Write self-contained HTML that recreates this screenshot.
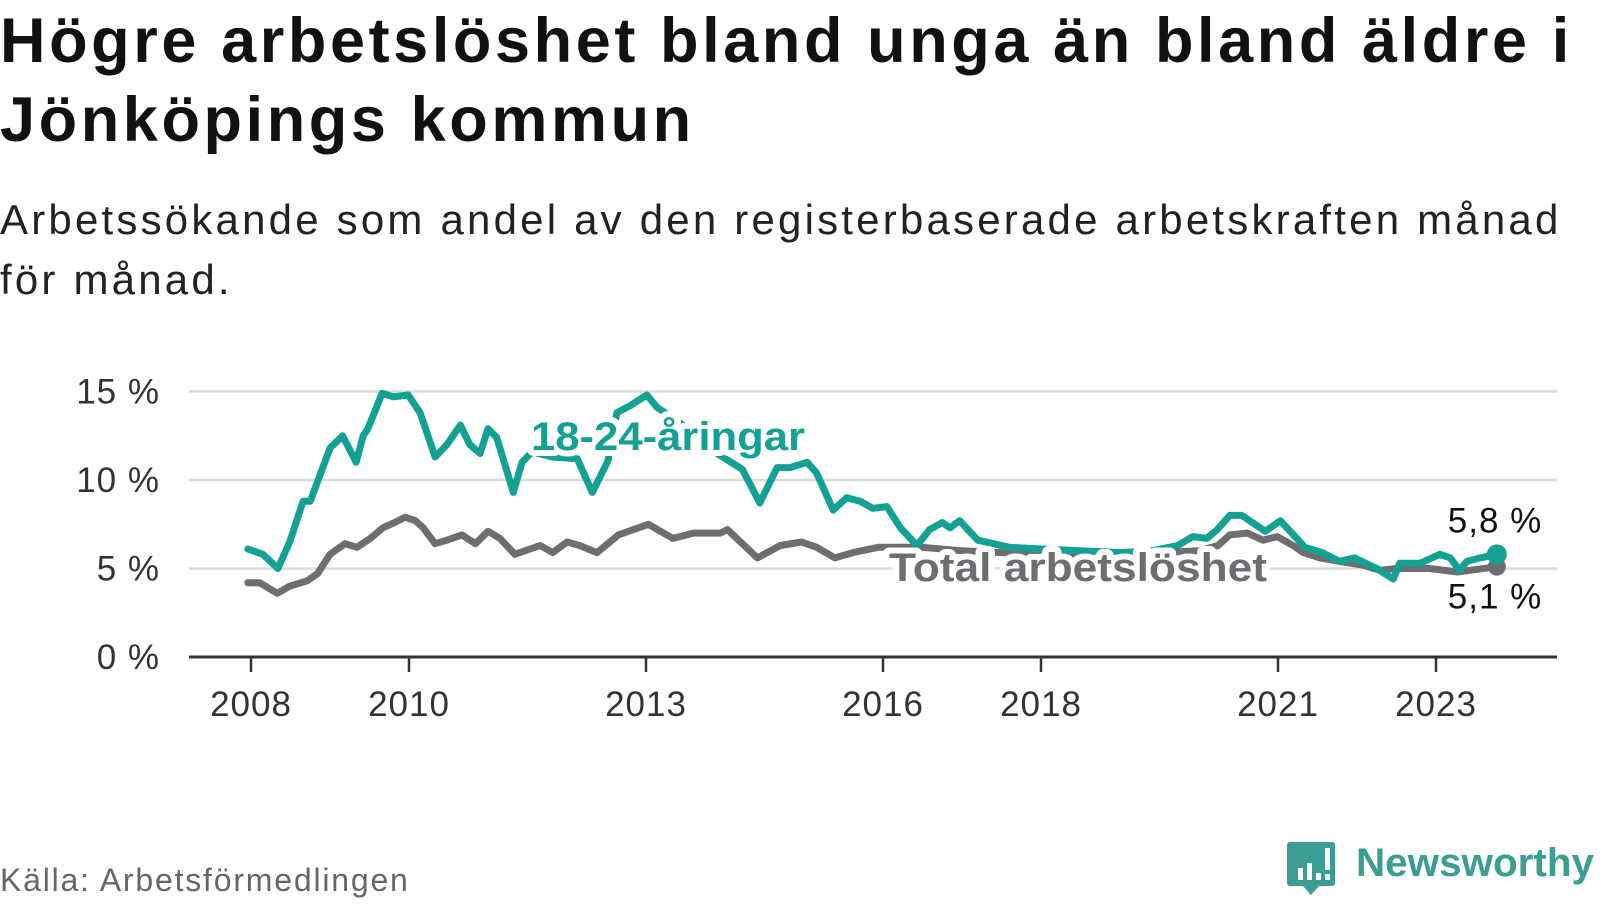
<!DOCTYPE html>
<html><head><meta charset="utf-8"><style>
html,body{margin:0;padding:0;background:#fff;width:1600px;height:900px;overflow:hidden;font-family:"Liberation Sans",sans-serif;}
#title{position:absolute;left:0;top:2px;margin:0;font-size:63px;line-height:79px;font-weight:bold;color:#111;letter-spacing:3.6px;white-space:nowrap;}
#sub{position:absolute;left:0;top:190px;margin:0;font-size:42px;line-height:60px;color:#222;letter-spacing:3.2px;white-space:nowrap;}
#src{position:absolute;left:0;top:862px;font-size:32px;color:#666;letter-spacing:1.8px;}
#logo{position:absolute;left:1286px;top:840px;}
</style></head><body>
<h1 id="title">Högre arbetslöshet bland unga än bland äldre i<br>Jönköpings kommun</h1>
<p id="sub">Arbetssökande som andel av den registerbaserade arbetskraften månad<br>för månad.</p>
<svg id="chart" width="1600" height="900" style="position:absolute;left:0;top:0"></svg>
<div id="src">Källa: Arbetsförmedlingen</div>
<div id="logo">
<svg width="314" height="62">
<path d="M4 2 h42 a3 3 0 0 1 3 3 v38 a3 3 0 0 1 -3 3 h-13 l-8 9 l-8 -9 h-13 a3 3 0 0 1 -3 -3 v-38 a3 3 0 0 1 3 -3z" fill="#3a9e93"/>
<rect x="12" y="28" width="5" height="12" fill="#fff"/><rect x="21" y="23" width="5" height="17" fill="#fff"/><rect x="30" y="33" width="5" height="7" fill="#fff"/><rect x="39" y="8" width="5" height="22" fill="#fff"/><rect x="39" y="34" width="5" height="6" fill="#fff"/>
<text x="70" y="36" font-family="Liberation Sans, sans-serif" font-size="40" font-weight="bold" fill="#3a9e93" textLength="238" lengthAdjust="spacingAndGlyphs">Newsworthy</text>
</svg></div>
<script>
const yTicks=[0,5,10,15];
const yTickLabels=["0 %","5 %","10 %","15 %"];
const xTicks=[2008,2010,2013,2016,2018,2021,2023];
const youthX=[2007.96,2008.15,2008.34,2008.49,2008.66,2008.75,2009.0,2009.16,2009.33,2009.42,2009.48,2009.66,2009.8,2009.99,2010.14,2010.33,2010.48,2010.65,2010.77,2010.9,2011.0,2011.11,2011.32,2011.43,2011.56,2011.81,2012.13,2012.32,2012.52,2012.63,2012.8,2013.01,2013.14,2013.5,2013.9,2014.22,2014.44,2014.66,2014.82,2015.04,2015.16,2015.37,2015.54,2015.71,2015.87,2016.05,2016.22,2016.43,2016.59,2016.75,2016.85,2016.97,2017.2,2017.6,2018.0,2018.5,2019.0,2019.4,2019.73,2019.92,2020.1,2020.23,2020.39,2020.54,2020.84,2021.03,2021.34,2021.56,2021.78,2021.97,2022.25,2022.46,2022.54,2022.8,2023.05,2023.18,2023.3,2023.39,2023.56,2023.77];
const youthV=[6.1,5.8,5.0,6.5,8.8,8.8,11.8,12.5,11.0,12.5,12.9,14.9,14.7,14.8,13.8,11.3,12.0,13.1,12.0,11.5,12.9,12.4,9.3,11.0,11.6,11.3,11.2,9.3,11.1,13.8,14.2,14.8,14.1,13.0,11.5,10.6,8.7,10.7,10.7,11.0,10.4,8.3,9.0,8.8,8.4,8.5,7.3,6.3,7.2,7.6,7.3,7.7,6.6,6.2,6.1,6.0,5.9,6.0,6.3,6.8,6.7,7.2,8.0,8.0,7.1,7.7,6.2,5.9,5.4,5.6,5.0,4.4,5.3,5.3,5.8,5.6,4.9,5.4,5.6,5.8];
const totalX=[2007.96,2008.11,2008.33,2008.49,2008.71,2008.84,2009.0,2009.19,2009.34,2009.51,2009.67,2009.82,2009.95,2010.08,2010.18,2010.33,2010.48,2010.67,2010.84,2011.0,2011.15,2011.34,2011.66,2011.82,2012.0,2012.16,2012.38,2012.65,2012.84,2013.03,2013.34,2013.6,2013.94,2014.03,2014.41,2014.7,2014.97,2015.16,2015.39,2015.62,2015.94,2016.5,2017.0,2017.5,2018.0,2018.5,2019.0,2019.5,2020.0,2020.24,2020.39,2020.61,2020.81,2020.99,2021.19,2021.32,2021.53,2021.78,2022.07,2022.29,2022.5,2022.92,2023.27,2023.43,2023.77];
const totalV=[4.2,4.2,3.6,4.0,4.3,4.7,5.8,6.4,6.2,6.7,7.3,7.6,7.9,7.7,7.3,6.4,6.6,6.9,6.4,7.1,6.7,5.8,6.3,5.9,6.5,6.3,5.9,6.9,7.2,7.5,6.7,7.0,7.0,7.2,5.6,6.3,6.5,6.2,5.6,5.9,6.2,6.2,6.0,5.9,5.8,5.8,5.9,5.9,6.0,6.3,6.9,7.0,6.6,6.8,6.3,5.9,5.6,5.4,5.2,4.9,5.0,5.0,4.8,4.9,5.1];
const youthLabel="18-24-åringar", totalLabel="Total arbetslöshet";

const NS="http://www.w3.org/2000/svg";
const svg=document.getElementById('chart');
const X0=189,X1=1557;
function xs(yr){return 251+(yr-2008)*79.0;}
function ys(v){return 657-v*17.7;}
function mk(tag,attrs,parent){const e=document.createElementNS(NS,tag);for(const k in attrs)e.setAttribute(k,attrs[k]);(parent||svg).appendChild(e);return e;}
yTicks.forEach((t,i)=>{
  if(t>0){const g=mk('line',{x1:X0,x2:X1,y1:ys(t),y2:ys(t),stroke:'#dcdcdc','stroke-width':2.5});
  
  }
  const l=mk('text',{x:160,y:ys(t)+12,'text-anchor':'end','font-size':35,fill:'#333','letter-spacing':1});
  l.textContent=yTickLabels[i];
  
  
});
xTicks.forEach(t=>{
  const tk=mk('line',{x1:xs(t),x2:xs(t),y1:657,y2:672,stroke:'#333','stroke-width':2.5});
  
  
  const l=mk('text',{x:xs(t),y:716,'text-anchor':'middle','font-size':35,fill:'#333','letter-spacing':1});
  l.textContent=t;
  
  
});
const ax=mk('line',{x1:X0,x2:X1,y1:657,y2:657,stroke:'#333','stroke-width':3});


function pts(xa,va){return xa.map((x,i)=>xs(x).toFixed(1)+','+ys(va[i]).toFixed(1)).join(' ');}
const tl=mk('polyline',{points:pts(totalX,totalV),fill:'none',stroke:'#6e6d72','stroke-width':7,'stroke-linejoin':'round','stroke-linecap':'round'});


const yl=mk('polyline',{points:pts(youthX,youthV),fill:'none',stroke:'#13a194','stroke-width':7,'stroke-linejoin':'round','stroke-linecap':'round'});


const n=totalX.length-1,m=youthX.length-1;
const td=mk('circle',{cx:xs(totalX[n]),cy:ys(totalV[n]),r:9,fill:'#6e6d72'});


const yd=mk('circle',{cx:xs(youthX[m]),cy:ys(youthV[m]),r:10,fill:'#13a194'});


const ev=mk('text',{x:1495,y:ys(youthV[m])-22,'text-anchor':'middle','font-size':35,fill:'#111','letter-spacing':1});
ev.textContent=youthV[m].toFixed(1).replace('.',',')+' %';


const et=mk('text',{x:1495,y:ys(totalV[n])+42,'text-anchor':'middle','font-size':35,fill:'#111','letter-spacing':1});
et.textContent=totalV[n].toFixed(1).replace('.',',')+' %';


const yLab=mk('text',{x:531,y:450,'font-size':40,'font-weight':'bold',fill:'#13a194',stroke:'#fff','stroke-width':12,'paint-order':'stroke','stroke-linejoin':'round',textLength:274,lengthAdjust:'spacingAndGlyphs'});
yLab.textContent=youthLabel;


const tLab=mk('text',{x:889,y:581,'font-size':40,'font-weight':'bold',fill:'#6e6d72',stroke:'#fff','stroke-width':12,'paint-order':'stroke','stroke-linejoin':'round',textLength:378,lengthAdjust:'spacingAndGlyphs'});
tLab.textContent=totalLabel;


</script>
</body></html>
